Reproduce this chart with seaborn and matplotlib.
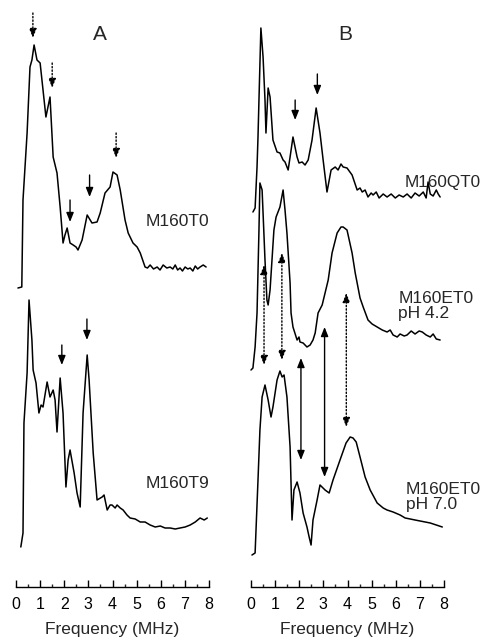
import numpy as np
import pandas as pd
import matplotlib
matplotlib.use("Agg")
import matplotlib.pyplot as plt
import seaborn as sns

# ---------------- data (frequency in MHz, amplitude above each trace's baseline) -------------
t0_freq = [0.08, 0.24, 0.29, 0.46, 0.58, 0.66, 0.75, 0.87, 1.0, 1.12, 1.24, 1.41, 1.54, 1.7, 1.83,
           1.95, 2.03, 2.12, 2.24, 2.37, 2.49, 2.57, 2.74, 2.95, 3.15, 3.36, 3.49, 3.69, 3.9, 4.02,
           4.19, 4.32, 4.52, 4.65, 4.85, 5.02, 5.15, 5.35, 5.45, 5.56, 5.7, 5.85, 5.97, 6.1, 6.25,
           6.39, 6.5, 6.6, 6.7, 6.8, 6.9, 7.01, 7.12, 7.22, 7.33, 7.43, 7.53, 7.63, 7.76, 7.88]
t0_amp = [0, 1, 88, 155, 221, 228, 243, 228, 225, 198, 171, 191, 131, 115, 81,
          45, 53, 60, 45, 43, 41, 38, 48, 73, 65, 66, 75, 95, 101, 116,
          113, 98, 68, 55, 45, 41, 35, 21, 20, 23, 19, 21, 18, 23, 20,
          21, 19, 23, 18, 20, 17, 21, 19, 20, 17, 22, 19, 21, 23, 21]

t9_freq = [0.2, 0.29, 0.33, 0.46, 0.54, 0.66, 0.71, 0.83, 0.95, 1.04, 1.12, 1.29, 1.41, 1.54, 1.62,
           1.7, 1.83, 1.95, 2.07, 2.16, 2.24, 2.41, 2.53, 2.66, 2.78, 2.95, 3.03, 3.2, 3.36, 3.57,
           3.65, 3.78, 3.9, 3.98, 4.11, 4.19, 4.32, 4.44, 4.6, 4.73, 4.94, 5.15, 5.35, 5.56, 5.77,
           5.98, 6.18, 6.39, 6.6, 6.8, 7.01, 7.22, 7.43, 7.63, 7.8, 7.93]
t9_amp = [0, 14, 124, 174, 247, 207, 177, 164, 134, 142, 140, 165, 150, 157, 147,
          115, 169, 134, 60, 87, 97, 74, 54, 40, 134, 192, 167, 94, 47, 50,
          52, 37, 42, 42, 39, 42, 39, 37, 32, 29, 28, 25, 25, 22, 20,
          21, 19, 19, 18, 19, 20, 22, 25, 29, 27, 29]

qt0_freq = [0.08, 0.17, 0.25, 0.29, 0.33, 0.41, 0.5, 0.58, 0.62, 0.71, 0.79, 0.91, 1.08, 1.2, 1.33,
            1.41, 1.54, 1.62, 1.74, 1.91, 1.99, 2.12, 2.24, 2.37, 2.53, 2.7, 2.86, 2.99, 3.15, 3.32,
            3.49, 3.61, 3.73, 3.82, 3.98, 4.19, 4.4, 4.52, 4.61, 4.73, 4.85, 4.98, 5.06, 5.19, 5.31,
            5.48, 5.64, 5.81, 5.98, 6.14, 6.31, 6.47, 6.64, 6.8, 6.97, 7.14, 7.26, 7.34, 7.43, 7.55,
            7.68, 7.76, 7.84]
qt0_amp = [0, 4, 45, 75, 112, 184, 155, 112, 79, 124, 115, 72, 60, 59, 52,
           50, 42, 55, 75, 55, 49, 50, 47, 52, 72, 104, 79, 52, 20, 42,
           45, 42, 48, 45, 44, 37, 22, 24, 20, 22, 15, 19, 17, 20, 14,
           18, 15, 18, 14, 17, 15, 18, 14, 19, 16, 20, 14, 30, 18, 16,
           22, 18, 15]

e42_freq = [0.0, 0.08, 0.17, 0.25, 0.33, 0.37, 0.46, 0.5, 0.58, 0.66, 0.71, 0.79, 0.87, 0.95, 1.04,
            1.2, 1.33, 1.41, 1.49, 1.62, 1.66, 1.74, 1.91, 1.99, 2.03, 2.16, 2.32, 2.45, 2.57, 2.66,
            2.78, 2.95, 3.07, 3.2, 3.36, 3.57, 3.73, 3.82, 3.98, 4.19, 4.32, 4.4, 4.52, 4.65, 4.85,
            5.02, 5.23, 5.44, 5.64, 5.77, 5.89, 6.06, 6.18, 6.35, 6.47, 6.64, 6.8, 6.97, 7.1, 7.26,
            7.43, 7.55, 7.68, 7.84]
e42_amp = [0, 2, 23, 57, 140, 187, 180, 157, 110, 70, 65, 80, 110, 140, 153,
           163, 180, 160, 137, 87, 57, 43, 30, 33, 28, 27, 23, 25, 30, 37,
           57, 65, 77, 90, 117, 137, 143, 143, 140, 117, 97, 87, 72, 63, 50,
           46, 43, 40, 38, 40, 35, 33, 36, 34, 35, 39, 36, 39, 38, 35,
           33, 36, 31, 30]

e70_freq = [0.04, 0.17, 0.29, 0.37, 0.46, 0.58, 0.71, 0.83, 0.91, 1.08, 1.2, 1.29, 1.37, 1.49, 1.62,
            1.7, 1.78, 1.91, 2.03, 2.16, 2.32, 2.41, 2.49, 2.57, 2.74, 2.86, 3.07, 3.24, 3.4, 3.69,
            3.94, 4.11, 4.23, 4.36, 4.52, 4.73, 4.94, 5.23, 5.48, 5.64, 5.89, 6.18, 6.39, 6.6, 6.8,
            7.01, 7.22, 7.43, 7.68, 7.93]
e70_amp = [0, 2, 75, 125, 158, 170, 155, 138, 148, 175, 184, 178, 180, 158, 108,
           35, 65, 73, 62, 42, 28, 18, 10, 35, 55, 70, 65, 62, 75, 95,
           112, 118, 117, 113, 98, 78, 65, 52, 47, 45, 43, 40, 37, 36, 35,
           34, 33, 32, 30, 28]

tick_labels = ["0", "1", "2", "3", "4", "5", "6", "7", "8"]
xlabel = "Frequency (MHz)"

# ---------------- figure ----------------
W, H = 481, 637
sns.set_style("ticks")
plt.rcParams["font.family"] = ["Liberation Sans", "DejaVu Sans"]
fig = plt.figure(figsize=(W / 100, H / 100), dpi=100)

spine_py = 587
def make_ax(x0px, x8px):
    ax = fig.add_axes([x0px / W, (H - spine_py) / H, (x8px - x0px) / W, spine_py / H])
    ax.set_xlim(0, 8)
    ax.set_ylim(0, spine_py)
    sns.despine(ax=ax, left=True, top=True, right=True)
    ax.set_yticks([])
    ax.spines["bottom"].set_linewidth(1.0)
    ax.spines["bottom"].set_color("black")
    ax.set_xticks(range(9))
    ax.set_xticklabels(tick_labels, fontsize=11.5)
    ax.set_xticks(np.arange(0.5, 8, 1.0), minor=True)
    ax.tick_params(axis="x", which="major", direction="in", length=5, width=1, pad=7.5, colors="black")
    ax.tick_params(axis="x", which="minor", direction="in", length=2.5, width=1)
    ax.patch.set_alpha(0)
    return ax

axA = make_ax(16, 209)
axB = make_ax(251, 444)

def trace(ax, f, a, base):
    df = pd.DataFrame({"f": f, "y": np.array(a, dtype=float) + base})
    sns.lineplot(data=df, x="f", y="y", ax=ax, color="black", lw=1.1, estimator=None, sort=False)
    for ln in ax.lines[-1:]:
        ln.set_clip_on(False)

trace(axA, t0_freq, t0_amp, spine_py - 288)
trace(axA, t9_freq, t9_amp, spine_py - 547)
trace(axB, qt0_freq, qt0_amp, spine_py - 212)
trace(axB, e42_freq, e42_amp, spine_py - 370)
trace(axB, e70_freq, e70_amp, spine_py - 555)
for ax in (axA, axB):
    ax.set_xlabel(xlabel, fontsize=12.5, labelpad=7)
    ax.set_ylabel("")

def arrow(ax, f, y0, y1, dotted=False, double=False):
    style = "<|-|>" if double else "-|>"
    ax.annotate("", xy=(f, y1), xytext=(f, y0),
                arrowprops=dict(arrowstyle=style + ",head_length=0.55,head_width=0.22",
                                color="black", lw=1.0,
                                linestyle=(0, (1, 1.5)) if dotted else "-",
                                shrinkA=0, shrinkB=0),
                annotation_clip=False)

# panel A arrows
arrow(axA, 0.70, 574, 549, dotted=True)
arrow(axA, 1.50, 524, 499, dotted=True)
arrow(axA, 4.15, 454, 429, dotted=True)
arrow(axA, 2.24, 387, 365)
arrow(axA, 3.05, 412, 390)
arrow(axA, 1.90, 242, 222)
arrow(axA, 2.94, 268, 247)
# panel B arrows
arrow(axB, 1.83, 487, 467)
arrow(axB, 2.75, 513, 492)
arrow(axB, 0.54, 322, 222, dotted=True, double=True)
arrow(axB, 1.28, 334, 227, dotted=True, double=True)
arrow(axB, 2.07, 229, 127, double=True)
arrow(axB, 3.05, 260, 110, double=True)
arrow(axB, 3.95, 294, 160, dotted=True, double=True)

# texts
axA.text(3.49, 553, "A", fontsize=15, ha="center", va="center")
axB.text(3.90, 553, "B", fontsize=15, ha="center", va="center")
axA.text(6.68, 365, "M160T0", fontsize=12.5, ha="center", va="center")
axA.text(6.68, 104, "M160T9", fontsize=12.5, ha="center", va="center")
axB.text(9.52, 405, "M160QT0", fontsize=12.3, ha="right", va="center", clip_on=False)
axB.text(6.10, 281, "M160ET0\npH 4.2", fontsize=12.5, ha="left", va="center", linespacing=1.0)
axB.text(6.43, 90, "M160ET0\npH 7.0", fontsize=12.5, ha="left", va="center", linespacing=1.0)

fig.savefig("out.png", dpi=100)
